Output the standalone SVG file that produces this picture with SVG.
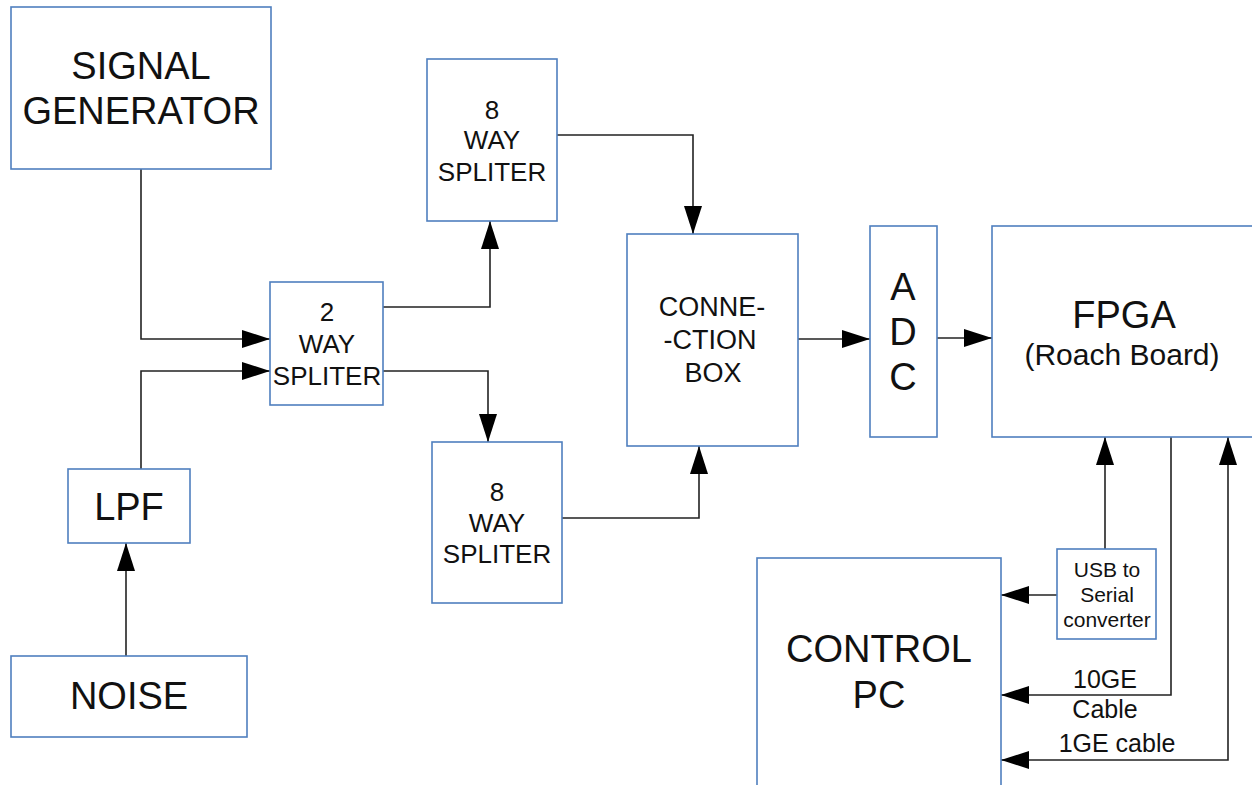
<svg xmlns="http://www.w3.org/2000/svg" width="1252" height="785" viewBox="0 0 1252 785">
<style>
.box{fill:#fff;stroke:#4f7fbf;stroke-width:1.6}
.t{font-family:"Liberation Sans",Arial,sans-serif;fill:#111;text-anchor:middle}
.big{font-size:38px}
.mid{font-size:26px}
.con{fill:none;stroke:#222;stroke-width:1.6}
</style>
<defs>
<marker id="ah" markerUnits="userSpaceOnUse" markerWidth="28" markerHeight="18" refX="28" refY="9" orient="auto-start-reverse" viewBox="0 0 28 18">
<path d="M0,0 L28,9 L0,18 z" fill="#000"/>
</marker>
</defs>
<rect width="1252" height="785" fill="#fff"/>
<g id="connectors">
<path class="con" d="M141,169 V339 H270" marker-end="url(#ah)"/>
<path class="con" d="M141,469 V371 H270" marker-end="url(#ah)"/>
<path class="con" d="M126,656 V543" marker-end="url(#ah)"/>
<path class="con" d="M383,307 H490 V221" marker-end="url(#ah)"/>
<path class="con" d="M383,371 H488 V442" marker-end="url(#ah)"/>
<path class="con" d="M557,135 H693 V234" marker-end="url(#ah)"/>
<path class="con" d="M562,518 H699 V446" marker-end="url(#ah)"/>
<path class="con" d="M798,339 H870" marker-end="url(#ah)"/>
<path class="con" d="M937,338 H992" marker-end="url(#ah)"/>
<path class="con" d="M1105,549 V437" marker-end="url(#ah)"/>
<path class="con" d="M1057,595 H1001" marker-end="url(#ah)"/>
<path class="con" d="M1171,437 V695 H1001" marker-end="url(#ah)"/>
<path class="con" d="M1001,760 H1228 V437" marker-start="url(#ah)" marker-end="url(#ah)"/>
</g>
<g id="signal-generator">
<rect class="box" x="11" y="7" width="260" height="162"/>
<text class="t big" x="141" y="79">SIGNAL</text>
<text class="t big" x="141" y="124">GENERATOR</text>
</g>
<g id="two-way-splitter">
<rect class="box" x="270" y="282" width="113" height="123"/>
<text class="t mid" x="327" y="321">2</text>
<text class="t mid" x="327" y="353">WAY</text>
<text class="t mid" x="327" y="385">SPLITER</text>
</g>
<g id="eight-way-splitter-top">
<rect class="box" x="427" y="59" width="130" height="162"/>
<text class="t mid" x="492" y="119">8</text>
<text class="t mid" x="492" y="149">WAY</text>
<text class="t mid" x="492" y="181">SPLITER</text>
</g>
<g id="eight-way-splitter-bottom">
<rect class="box" x="432" y="442" width="130" height="161"/>
<text class="t mid" x="497" y="501">8</text>
<text class="t mid" x="497" y="532">WAY</text>
<text class="t mid" x="497" y="563">SPLITER</text>
</g>
<g id="lpf">
<rect class="box" x="68" y="469" width="122" height="74"/>
<text class="t big" x="129" y="520">LPF</text>
</g>
<g id="noise">
<rect class="box" x="11" y="656" width="236" height="81"/>
<text class="t big" x="129" y="709">NOISE</text>
</g>
<g id="connection-box">
<rect class="box" x="627" y="234" width="171" height="212"/>
<text class="t" style="font-size:27px" x="712" y="316">CONNE-</text>
<text class="t" style="font-size:27px" x="710" y="349">-CTION</text>
<text class="t" style="font-size:27px" x="713" y="382">BOX</text>
</g>
<g id="adc">
<rect class="box" x="870" y="226" width="67" height="211"/>
<text class="t big" x="903" y="300">A</text>
<text class="t big" x="903" y="345">D</text>
<text class="t big" x="903" y="390">C</text>
</g>
<g id="fpga">
<rect class="box" x="992" y="226" width="275" height="211"/>
<text class="t big" x="1124" y="328">FPGA</text>
<text class="t" style="font-size:30px" x="1122" y="365">(Roach Board)</text>
</g>
<g id="usb-serial">
<rect class="box" x="1057" y="549" width="99" height="90"/>
<text class="t" style="font-size:21px" x="1107" y="577">USB to</text>
<text class="t" style="font-size:21px" x="1107" y="602">Serial</text>
<text class="t" style="font-size:21px" x="1107" y="627">converter</text>
</g>
<g id="control-pc">
<rect class="box" x="757" y="558" width="244" height="250"/>
<text class="t big" x="879" y="662">CONTROL</text>
<text class="t big" x="879" y="708">PC</text>
</g>
<g id="labels">
<text class="t" style="font-size:25px" x="1105" y="688">10GE</text>
<text class="t" style="font-size:25px" x="1105" y="718">Cable</text>
<text class="t" style="font-size:25px" x="1117" y="752">1GE cable</text>
</g>
</svg>
